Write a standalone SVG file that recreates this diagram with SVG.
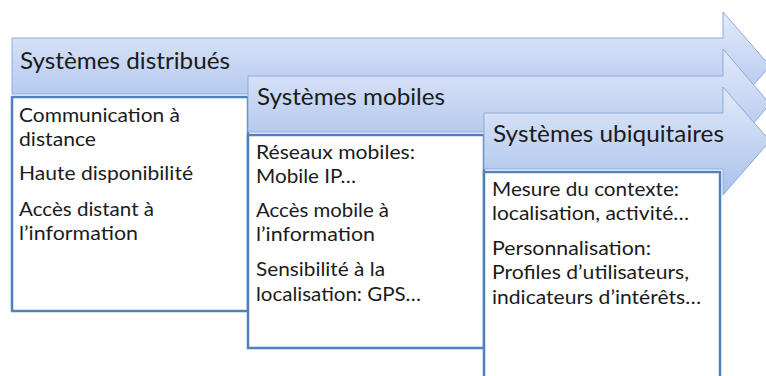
<svg xmlns="http://www.w3.org/2000/svg" width="766" height="376" viewBox="0 0 766 376">
<style>
.arrow{fill:url(#hg);stroke:#8EAADB;stroke-width:1}
.box{fill:#ffffff;stroke:#4F81BD;stroke-width:2.5}
.h{font-family:Lato,"Liberation Sans",sans-serif;font-size:23px;fill:#1b1b1b}
.t{font-family:Lato,"Liberation Sans",sans-serif;font-size:20px;fill:#1b1b1b}
</style>
<defs>
<linearGradient id="hg" x1="0" y1="0" x2="0" y2="1">
<stop offset="0" stop-color="#E2EAF9"/>
<stop offset="1" stop-color="#A9C1EC"/>
</linearGradient>
</defs>
<rect width="766" height="376" fill="#ffffff"/>
<g id="connectors"></g>
<g id="distribues">
<path class="arrow" d="M12,38 H723 V12 L770,66 L723,120 V94 H12 Z"/>
<rect class="box" x="12" y="97" width="236" height="214"/>
<text class="h" x="20" y="69" textLength="210" lengthAdjust="spacingAndGlyphs">Systèmes distribués</text>
<text class="t" x="19" y="122" textLength="161" lengthAdjust="spacingAndGlyphs">Communication à</text>
<text class="t" x="19" y="146" textLength="77" lengthAdjust="spacingAndGlyphs">distance</text>
<text class="t" x="19" y="180" textLength="174" lengthAdjust="spacingAndGlyphs">Haute disponibilité</text>
<text class="t" x="19" y="216" textLength="135" lengthAdjust="spacingAndGlyphs">Accès distant à</text>
<text class="t" x="19" y="240" textLength="119" lengthAdjust="spacingAndGlyphs">l’information</text>
</g>
<g id="mobiles">
<path class="arrow" d="M248,76 H723 V49 L770,104 L723,159 V132 H248 Z"/>
<rect class="box" x="248" y="135" width="236" height="213"/>
<text class="h" x="257" y="105" textLength="188" lengthAdjust="spacingAndGlyphs">Systèmes mobiles</text>
<text class="t" x="256" y="159" textLength="159" lengthAdjust="spacingAndGlyphs">Réseaux mobiles:</text>
<text class="t" x="256" y="183" textLength="100" lengthAdjust="spacingAndGlyphs">Mobile IP…</text>
<text class="t" x="256" y="217" textLength="133" lengthAdjust="spacingAndGlyphs">Accès mobile à</text>
<text class="t" x="256" y="241" textLength="119" lengthAdjust="spacingAndGlyphs">l’information</text>
<text class="t" x="256" y="276" textLength="129" lengthAdjust="spacingAndGlyphs">Sensibilité à la</text>
<text class="t" x="256" y="301" textLength="165" lengthAdjust="spacingAndGlyphs">localisation: GPS…</text>
</g>
<g id="ubiquitaires">
<path class="arrow" d="M484,113 H723 V87 L770,141 L723,195 V169 H484 Z"/>
<rect class="box" x="484" y="172" width="236" height="210"/>
<text class="h" x="493" y="142" textLength="231" lengthAdjust="spacingAndGlyphs">Systèmes ubiquitaires</text>
<text class="t" x="492" y="196" textLength="187" lengthAdjust="spacingAndGlyphs">Mesure du contexte:</text>
<text class="t" x="492" y="220" textLength="197" lengthAdjust="spacingAndGlyphs">localisation, activité…</text>
<text class="t" x="492" y="255" textLength="159" lengthAdjust="spacingAndGlyphs">Personnalisation:</text>
<text class="t" x="492" y="279" textLength="197" lengthAdjust="spacingAndGlyphs">Profiles d’utilisateurs,</text>
<text class="t" x="492" y="304" textLength="209" lengthAdjust="spacingAndGlyphs">indicateurs d’intérêts…</text>
</g>
</svg>
